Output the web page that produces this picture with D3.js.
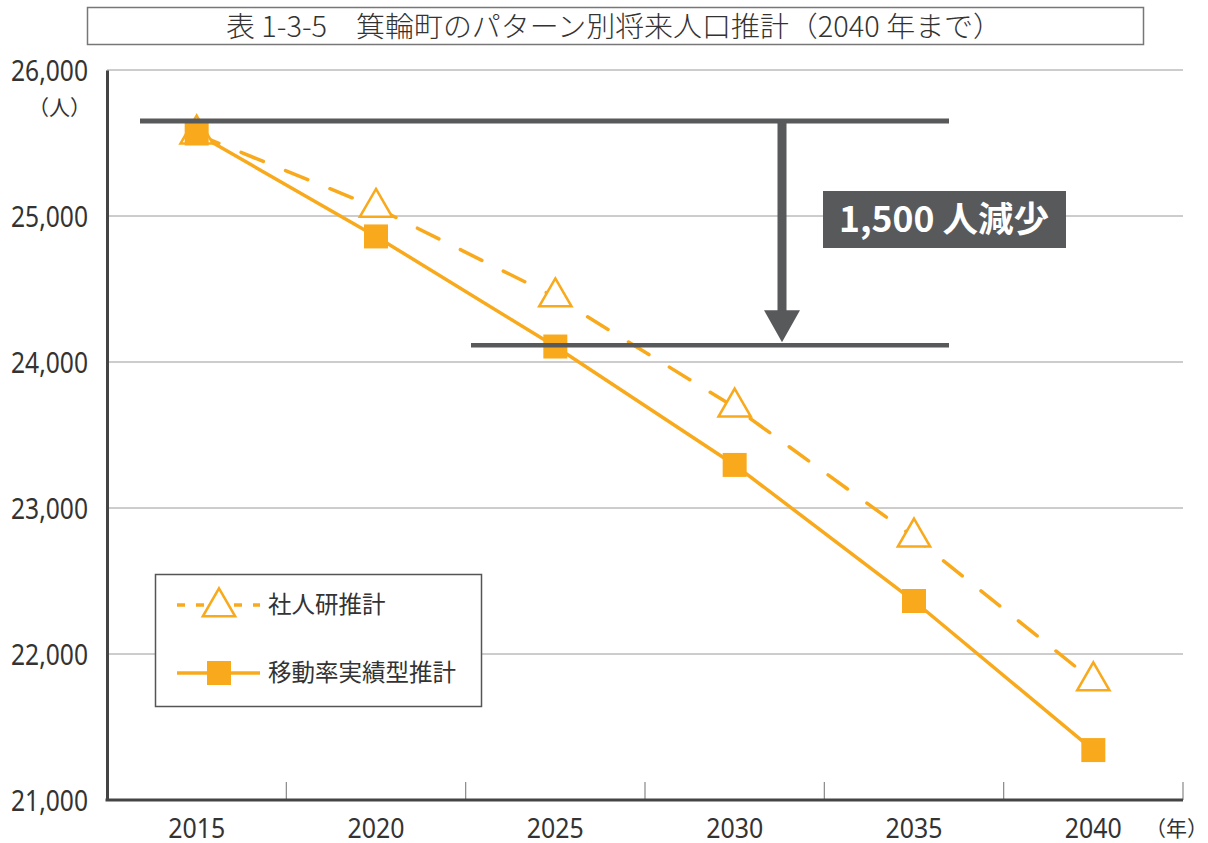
<!DOCTYPE html>
<html>
<head>
<meta charset="utf-8">
<script src="https://cdn.jsdelivr.net/npm/d3@7"></script>
<style>
  body { margin: 0; background: #fff; }
  svg { display: block; }
</style>
</head>
<body>
<div id="chart"></div>
<script>
const years = ['2015', '2020', '2025', '2030', '2035', '2040'];
const ipssValues = [25560, 25058, 24445, 23690, 22800, 21815];   // 社人研推計
const migrationValues = [25565, 24860, 24106, 23295, 22363, 21342]; // 移動率実績型推計
const yTicks = [21000, 22000, 23000, 24000, 25000, 26000];
const seriesNames = ['社人研推計', '移動率実績型推計'];
const titleText = '表 1-3-5　箕輪町のパターン別将来人口推計（2040 年まで）';
const annoTop = 25650;
const annoBottom = 24115;
const annoText = '1,500 人減少';

const width = 1208;
const height = 843;
const plotL = 107, plotR = 1183, plotT = 70, plotB = 800;
const orange = '#F9AA1C';
const dark = '#58595B';
const numFont = '"Noto Sans", "Open Sans", sans-serif';
const jpFont = '"Noto Sans CJK JP", sans-serif';

const svg = d3.select('#chart')
  .append('svg')
  .attr('width', width)
  .attr('height', height);

const x = d3.scaleBand().domain(years).range([plotL, plotR]).padding(0);
const y = d3.scaleLinear().domain([21000, 26000]).range([plotB, plotT]);
const cx = d => x(d) + x.bandwidth() / 2;

// title
svg.append('rect')
  .attr('x', 87.5).attr('y', 7.5)
  .attr('width', 1056).attr('height', 37)
  .attr('fill', 'none').attr('stroke', '#777').attr('stroke-width', 1.5);
svg.append('text')
  .attr('x', 614).attr('y', 37)
  .attr('text-anchor', 'middle')
  .attr('textLength', 776)
  .attr('lengthAdjust', 'spacingAndGlyphs')
  .style('font-family', jpFont)
  .style('font-size', '28px')
  .style('font-weight', 300)
  .style('fill', '#333')
  .text(titleText);

// grid lines
svg.append('g')
  .selectAll('line')
  .data(yTicks.filter(d => d > 21000))
  .enter()
  .append('line')
  .attr('x1', plotL).attr('x2', plotR)
  .attr('y1', d => y(d)).attr('y2', d => y(d))
  .attr('stroke', '#9a9a9a').attr('stroke-width', 1);

// y axis
const yAxis = svg.append('g')
  .attr('transform', 'translate(' + plotL + ',0)')
  .call(d3.axisLeft(y).tickValues(yTicks).tickFormat(d3.format(',')).tickSize(0).tickPadding(19));
yAxis.select('.domain').attr('stroke', '#444').attr('stroke-width', 3);
yAxis.selectAll('text')
  .attr('dy', '0.36em')
  .attr('textLength', 77)
  .attr('lengthAdjust', 'spacingAndGlyphs')
  .style('font-family', numFont)
  .style('font-size', '29px')
  .style('fill', '#333');

// x axis
const xAxis = svg.append('g')
  .attr('transform', 'translate(0,' + plotB + ')')
  .call(d3.axisBottom(x).tickSize(0).tickPadding(18));
xAxis.select('.domain').remove();
xAxis.selectAll('text')
  .attr('dy', '0.71em')
  .attr('textLength', 57)
  .attr('lengthAdjust', 'spacingAndGlyphs')
  .style('font-family', numFont)
  .style('font-size', '28px')
  .style('fill', '#333');
svg.append('g')
  .selectAll('line')
  .data(years)
  .enter()
  .append('line')
  .attr('x1', d => x(d) + x.bandwidth()).attr('x2', d => x(d) + x.bandwidth())
  .attr('y1', plotB).attr('y2', plotB - 18)
  .attr('stroke', '#888').attr('stroke-width', 1.2);
svg.append('line')
  .attr('x1', plotL - 1.5).attr('x2', plotR)
  .attr('y1', plotB).attr('y2', plotB)
  .attr('stroke', '#444').attr('stroke-width', 3);

// unit labels
svg.append('text')
  .attr('x', 91).attr('y', 115)
  .attr('text-anchor', 'end')
  .style('font-family', jpFont).style('font-size', '21px').style('fill', '#333')
  .text('（人）');
svg.append('text')
  .attr('x', 1208).attr('y', 836)
  .attr('text-anchor', 'end')
  .style('font-family', jpFont).style('font-size', '21px').style('fill', '#333')
  .text('（年）');

// lines
const line = d3.line()
  .x((d, i) => cx(years[i]))
  .y(d => y(d));

svg.append('path')
  .datum(ipssValues)
  .attr('d', line)
  .attr('fill', 'none')
  .attr('stroke', orange)
  .attr('stroke-width', 3.5)
  .attr('stroke-linecap', 'round')
  .attr('stroke-dasharray', '24 24');

svg.append('path')
  .datum(migrationValues)
  .attr('d', line)
  .attr('fill', 'none')
  .attr('stroke', orange)
  .attr('stroke-width', 3.5);

// markers
const tri = d3.symbol().type(d3.symbolTriangle).size(452);
const sq = d3.symbol().type(d3.symbolSquare).size(576);

svg.append('g')
  .selectAll('path')
  .data(ipssValues)
  .enter()
  .append('path')
  .attr('d', tri)
  .attr('transform', (d, i) => 'translate(' + cx(years[i]) + ',' + y(d) + ')')
  .attr('fill', '#fff')
  .attr('stroke', orange)
  .attr('stroke-width', 2.5);

svg.append('g')
  .selectAll('path')
  .data(migrationValues)
  .enter()
  .append('path')
  .attr('d', sq)
  .attr('transform', (d, i) => 'translate(' + cx(years[i]) + ',' + y(d) + ')')
  .attr('fill', orange);

// annotation
const arrowX = 782;
svg.append('line')
  .attr('x1', 140).attr('x2', 949)
  .attr('y1', y(annoTop)).attr('y2', y(annoTop))
  .attr('stroke', dark).attr('stroke-width', 5);
svg.append('line')
  .attr('x1', 471).attr('x2', 949)
  .attr('y1', y(annoBottom)).attr('y2', y(annoBottom))
  .attr('stroke', dark).attr('stroke-width', 4.5);
svg.append('line')
  .attr('x1', arrowX).attr('x2', arrowX)
  .attr('y1', y(annoTop)).attr('y2', y(annoBottom) - 30)
  .attr('stroke', dark).attr('stroke-width', 9);
svg.append('path')
  .attr('d', 'M' + (arrowX - 18) + ',' + (y(annoBottom) - 35) +
    'L' + (arrowX + 18) + ',' + (y(annoBottom) - 35) +
    'L' + arrowX + ',' + (y(annoBottom) - 3) + 'Z')
  .attr('fill', dark);

svg.append('rect')
  .attr('x', 823).attr('y', 191)
  .attr('width', 243).attr('height', 57)
  .attr('fill', dark);
svg.append('text')
  .attr('x', 944).attr('y', 232)
  .attr('text-anchor', 'middle')
  .attr('textLength', 210)
  .attr('lengthAdjust', 'spacingAndGlyphs')
  .style('font-family', jpFont)
  .style('font-size', '35px')
  .style('font-weight', 700)
  .style('fill', '#fff')
  .text(annoText);

// legend
const legend = svg.append('g');
legend.append('rect')
  .attr('x', 155.5).attr('y', 574.5)
  .attr('width', 326).attr('height', 132)
  .attr('fill', '#fff').attr('stroke', '#555').attr('stroke-width', 1.5);
const rows = [605, 673];
legend.append('line')
  .attr('x1', 177).attr('x2', 260)
  .attr('y1', rows[0]).attr('y2', rows[0])
  .attr('stroke', orange).attr('stroke-width', 3.5)
  .attr('stroke-dasharray', '8 11');
legend.append('path')
  .attr('d', tri)
  .attr('transform', 'translate(219,' + (rows[0] + 2) + ')')
  .attr('fill', '#fff').attr('stroke', orange).attr('stroke-width', 2.5);
legend.append('line')
  .attr('x1', 177).attr('x2', 260)
  .attr('y1', rows[1]).attr('y2', rows[1])
  .attr('stroke', orange).attr('stroke-width', 3.5);
legend.append('path')
  .attr('d', sq)
  .attr('transform', 'translate(219,' + rows[1] + ')')
  .attr('fill', orange);
legend.selectAll('text.lbl')
  .data(seriesNames)
  .enter()
  .append('text')
  .attr('class', 'lbl')
  .attr('x', 268)
  .attr('y', (d, i) => rows[i] + 8)
  .style('font-family', jpFont)
  .style('font-size', '23.5px')
  .style('fill', '#333')
  .text(d => d);
</script>
</body>
</html>
